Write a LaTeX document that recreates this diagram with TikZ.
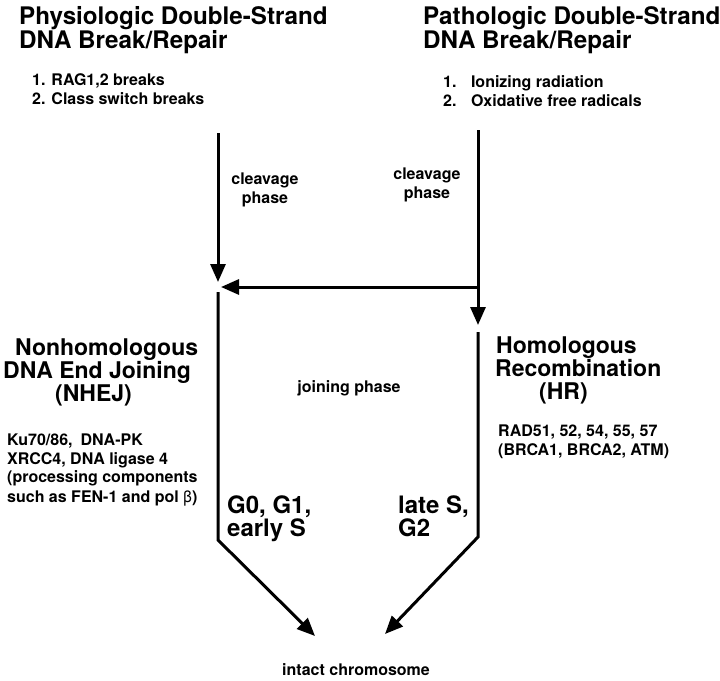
\documentclass[tikz,border=0pt]{standalone}
\usepackage{fontspec}
\setmainfont{TeX Gyre Heros}
\usetikzlibrary{arrows.meta}
\def\drawline{\draw[line width=3pt]}
\def\drawflow{\draw[line width=3pt,-{Triangle[length=18pt,width=15pt]}]}
\def\titlenode{\node[font=\bfseries\fontsize{24.2}{24}\selectfont,align=left,anchor=north west,inner sep=0pt]}
\def\headnode{\node[font=\bfseries\fontsize{23}{23}\selectfont,align=left,anchor=north west,inner sep=0pt]}
\def\textnode{\node[font=\bfseries\fontsize{16}{18.5}\selectfont,align=left,anchor=north west,inner sep=0pt]}
\def\phasenode{\node[font=\bfseries\fontsize{24}{20.5}\selectfont,align=left,anchor=north west,inner sep=0pt]}

\begin{document}
\begin{tikzpicture}[x=1pt,y=-1pt]
\useasboundingbox (0,0) rectangle (720,680);
% sources
\titlenode (physio) at (19,6) {Physiologic Double-Strand\\DNA Break/Repair};
\titlenode (patho) at (423,6) {Pathologic Double-Strand\\DNA Break/Repair};
\textnode (physiolist) at (32,73.5) {1. RAG1,2 breaks\\2. Class switch breaks};
\textnode (patholist) at (443,75.5) {1.\hspace{14.5pt}Ionizing radiation\\2.\hspace{14.5pt}Oxidative free radicals};
\textnode[align=center,anchor=north] (cleaveL) at (265,173) {cleavage\\phase};
\textnode[align=center,anchor=north] (cleaveR) at (427,168) {cleavage\\phase};
% pathways
\headnode (nhej) at (3,338.5) {\hspace*{12pt}Nonhomologous\\DNA End Joining\\\hspace*{52pt}(NHEJ)};
\headnode (hr) at (495,336.5) {\hspace*{1pt}Homologous\\Recombination\\\hspace*{44pt}(HR)};
\textnode[anchor=base] (joining) at (349,392) {joining phase};
\textnode (nhejgenes) at (7,434) {Ku70/86,\hspace{8pt}DNA-PK\\XRCC4, DNA ligase 4\\(processing components\\[1.5pt]such as FEN-1 and pol {\mdseries β})};
\textnode (hrgenes) at (498,425) {RAD51, 52, 54, 55, 57\\(BRCA1, BRCA2, ATM)};
\phasenode (early) at (227,496) {G0, G1,\\early S};
\phasenode (late) at (398,496) {late S,\\G2};
\textnode[anchor=base] (intact) at (356,675) {intact chromosome};
% junction points
\coordinate (ltop) at (218,133);
\coordinate (lmeet) at (218,282);
\coordinate (lstart) at (218,292);
\coordinate (lbend) at (218,540);
\coordinate (rtop) at (478,130);
\coordinate (rcross) at (478,287);
\coordinate (rmeet) at (478,325);
\coordinate (rstart) at (478,332);
\coordinate (rbend) at (478,537);
\coordinate (hmeet) at (221,287);
\coordinate (lend) at (315,636);
\coordinate (rend) at (385,634);
\drawflow (ltop) -- (lmeet);
\drawflow (rtop) -- (rmeet);
\drawflow (rcross) -- (hmeet);
\drawflow (lstart) -- (lbend) -- (lend);
\drawflow (rstart) -- (rbend) -- (rend);
\end{tikzpicture}
\end{document}
